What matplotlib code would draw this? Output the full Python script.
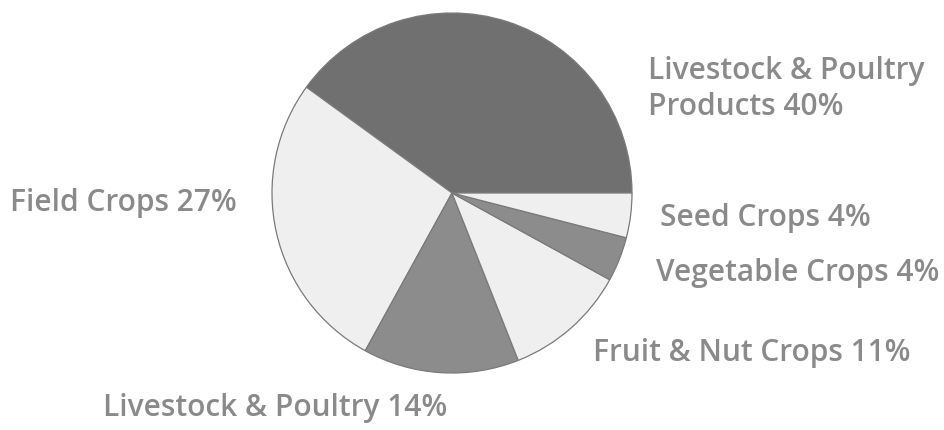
"""Pie chart: farm income shares by commodity group."""

import matplotlib.pyplot as plt

# slice shares, counter-clockwise from 3 o'clock
labels = [
    "Livestock & Poultry\nProducts 40%",
    "Field Crops 27%",
    "Livestock & Poultry 14%",
    "Fruit & Nut Crops 11%",
    "Vegetable Crops 4%",
    "Seed Crops 4%",
]
shares = [40, 27, 14, 11, 4, 4]
fills = ["#707070", "#efefef", "#8c8c8c", "#efefef", "#8c8c8c", "#efefef"]

# label anchors in pixel space (left x, centre y from top)
label_pos = [(648, 89), (10, 203), (103, 408), (593, 353), (656, 273), (660, 218)]

W, H = 944, 431
fig = plt.figure(figsize=(W / 100, H / 100), dpi=100)
ax = fig.add_axes([0, 0, 1, 1])

ax.pie(
    shares,
    colors=fills,
    startangle=0,
    counterclock=True,
    center=(452, H - 194),
    radius=180,
    wedgeprops=dict(edgecolor="#7a7a7a", linewidth=0.9),
    frame=True,
)
ax.set_xlim(0, W)
ax.set_ylim(0, H)
ax.set_aspect("equal")
ax.axis("off")

for text, (x, y) in zip(labels, label_pos):
    ax.text(
        x, H - y, text,
        ha="left", va="center",
        fontsize=21.5, fontfamily="Open Sans", fontweight="semibold",
        color="#8a8a8a", linespacing=1.27,
    )

fig.savefig("out.png", dpi=100)
